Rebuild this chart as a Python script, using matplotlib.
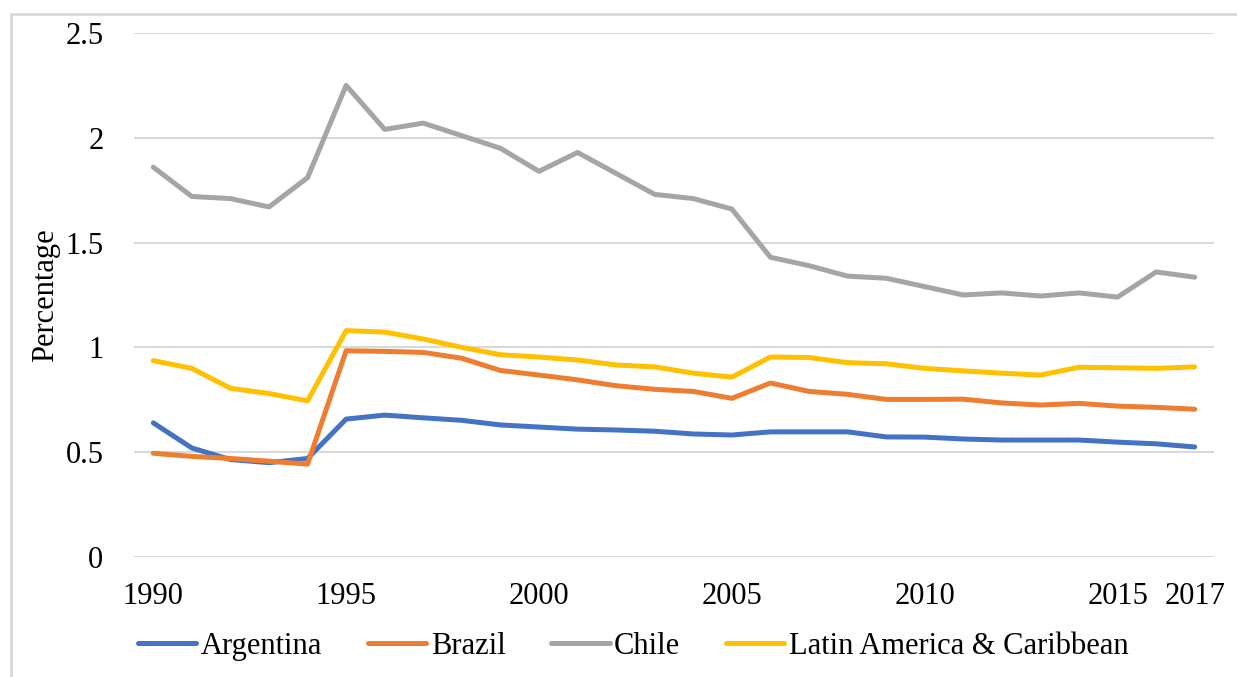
import matplotlib.pyplot as plt
from matplotlib.lines import Line2D

plt.rcParams['font.family'] = ['Liberation Serif', 'DejaVu Serif']

years = list(range(1990, 2018))
argentina = [0.64, 0.52, 0.465, 0.45, 0.47, 0.658, 0.677, 0.664, 0.652, 0.63,
             0.62, 0.61, 0.606, 0.60, 0.587, 0.582, 0.597, 0.597, 0.597, 0.573,
             0.572, 0.563, 0.558, 0.558, 0.558, 0.548, 0.54, 0.525]
brazil = [0.495, 0.48, 0.47, 0.457, 0.443, 0.984, 0.981, 0.976, 0.948, 0.89,
          0.868, 0.845, 0.817, 0.80, 0.79, 0.757, 0.83, 0.79, 0.776, 0.752,
          0.752, 0.753, 0.735, 0.725, 0.733, 0.72, 0.714, 0.705]
chile = [1.86, 1.72, 1.71, 1.67, 1.81, 2.25, 2.04, 2.07, 2.01, 1.95,
         1.84, 1.93, 1.83, 1.73, 1.71, 1.66, 1.43, 1.39, 1.34, 1.33,
         1.29, 1.25, 1.26, 1.245, 1.26, 1.24, 1.36, 1.335]
lac = [0.937, 0.90, 0.805, 0.78, 0.745, 1.08, 1.073, 1.04, 1.00, 0.965,
       0.954, 0.94, 0.916, 0.907, 0.877, 0.858, 0.954, 0.952, 0.927, 0.922,
       0.90, 0.888, 0.877, 0.868, 0.905, 0.903, 0.90, 0.907]
xticks = [1990, 1995, 2000, 2005, 2010, 2015, 2017]
yticks = [0, 0.5, 1, 1.5, 2, 2.5]

fig = plt.figure(figsize=(12.37, 6.77), dpi=100)
ax = fig.add_axes([134 / 1237, 1 - 557 / 677, 1080 / 1237, 524 / 677])

lw = 3.6
ax.plot(years, argentina, color='#4472C4', lw=lw, label='Argentina', solid_capstyle='round')
ax.plot(years, brazil, color='#ED7D31', lw=lw, label='Brazil', solid_capstyle='round')
ax.plot(years, chile, color='#A5A5A5', lw=lw, label='Chile', solid_capstyle='round')
ax.plot(years, lac, color='#FFC000', lw=lw, label='Latin America & Caribbean', solid_capstyle='round')

ax.set_xlim(1989.5, 2017.5)
ax.set_ylim(0, 2.5)
ax.set_xticks(xticks)
ax.set_xticklabels([str(y) for y in xticks])
ax.set_yticks(yticks)
ax.set_yticklabels(['0', '0.5', '1', '1.5', '2', '2.5'])
ax.grid(axis='y', color='#D9D9D9', lw=1.5)
ax.set_axisbelow(True)
for s in ax.spines.values():
    s.set_visible(False)
ax.tick_params(axis='both', length=0, labelsize=22)
ax.tick_params(axis='y', pad=22)
ax.tick_params(axis='x', pad=18)
ax.set_ylabel('Percentage', fontsize=22, labelpad=4)

fig.legend(loc='lower center', bbox_to_anchor=(0.512, -0.017), ncol=4, frameon=False,
           fontsize=22, handlelength=1.9, handletextpad=0.15, columnspacing=1.5)

# chart border (left and top only visible)
fig.add_artist(Line2D([11 / 1237, 11 / 1237], [0, 1 - 14 / 677], color='#D9D9D9', lw=2))
fig.add_artist(Line2D([11 / 1237, 1], [1 - 14 / 677, 1 - 14 / 677], color='#D9D9D9', lw=2))

fig.savefig('out.png', dpi=100)
